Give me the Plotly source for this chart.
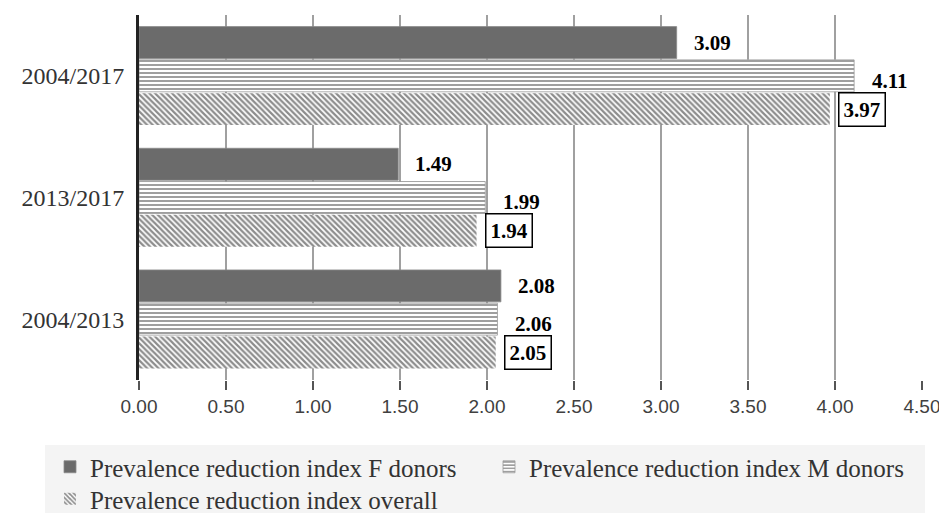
import plotly.graph_objects as go

categories = ["2004/2017", "2013/2017", "2004/2013"]
f_donors = [3.09, 1.49, 2.08]
m_donors = [4.11, 1.99, 2.06]
overall = [3.97, 1.94, 2.05]
series_names = ["Prevalence reduction index F donors",
                "Prevalence reduction index M donors",
                "Prevalence reduction index overall"]
tick_vals = [0, 0.5, 1, 1.5, 2, 2.5, 3, 3.5, 4, 4.5]
tick_text = ["0.00", "0.50", "1.00", "1.50", "2.00", "2.50", "3.00", "3.50", "4.00", "4.50"]

SERIF = "Liberation Serif, Times New Roman, serif"
OFF = 8  # page body margin
W, H = 947 - OFF, 513 - OFF
ML, MT = 139 - OFF, 15 - OFF
PR, PB = 922 - OFF, 380 - OFF
MR, MB = W - PR, H - PB
PW, PH = PR - ML, PB - MT

fig = go.Figure()
# add in reverse order so that F donors bar sits on top within each group
fig.add_trace(go.Bar(y=categories, x=overall, name=series_names[2], orientation="h",
                     legend="legend3",
                     marker=dict(color="white", line=dict(width=0),
                                 pattern=dict(shape="\\", fgcolor="#1a1a1a", bgcolor="white",
                                              size=4, solidity=0.55))))
fig.add_trace(go.Bar(y=categories, x=m_donors, name=series_names[1], orientation="h",
                     legend="legend2",
                     marker=dict(color="white", line=dict(color="#999999", width=0.8),
                                 pattern=dict(shape="-", fgcolor="#2a2a2a", bgcolor="white",
                                              size=4, solidity=0.45))))
fig.add_trace(go.Bar(y=categories, x=f_donors, name=series_names[0], orientation="h",
                     legend="legend",
                     marker=dict(color="#6b6b6b", line=dict(color="#8a8a8a", width=0.8))))

annotations = []
label_font = dict(family=SERIF, size=21, color="black")
bar_step = PH / 3 * (1 - 0.18) / 3
for i, c in enumerate(categories):
    for vals, pos, boxed, shift in ((f_donors, 1, False, 17),
                                    (m_donors, -0.15, False, 18),
                                    (overall, -1, True, 8)):
        v = vals[i]
        annotations.append(dict(
            x=v, y=c, xref="x", yref="y", yshift=pos * bar_step,
            text="<b>%.2f</b>" % v, showarrow=False, xanchor="left",
            xshift=shift, font=label_font,
            bordercolor="black" if boxed else "rgba(0,0,0,0)",
            borderwidth=1.5 if boxed else 0,
            borderpad=4 if boxed else 0,
            bgcolor="white" if boxed else "rgba(0,0,0,0)"))

legend_font = dict(family=SERIF, size=25, color="#333333")


def leg(sx, sy):
    return dict(orientation="h", xref="container", yref="container",
                x=(sx - OFF) / W, y=1 - (sy - OFF) / H, xanchor="left", yanchor="middle",
                bgcolor="rgba(0,0,0,0)", font=legend_font, itemwidth=30)


fig.update_layout(
    width=W, height=H,
    margin=dict(l=ML, r=MR, t=MT, b=MB),
    paper_bgcolor="white", plot_bgcolor="white",
    barmode="group", bargap=0.18, bargroupgap=0.04,
    annotations=annotations,
    showlegend=True,
    legend=leg(50, 467),
    legend2=leg(489, 467),
    legend3=leg(50, 499),
    shapes=[dict(type="rect", xref="paper", yref="paper",
                 x0=(45 - OFF - ML) / PW, x1=(925 - OFF - ML) / PW,
                 y0=-(H - PB + 2) / PH, y1=-(445 - OFF - PB) / PH,
                 fillcolor="#f4f4f4", line=dict(width=0), layer="below")],
    xaxis=dict(range=[0, 4.5], tickvals=tick_vals, ticktext=tick_text,
               showgrid=True, gridcolor="#a0a0a0", gridwidth=1.5,
               ticks="outside", ticklen=9, tickcolor="#555555", tickwidth=1.5,
               zeroline=False, showline=False, automargin=False,
               tickfont=dict(family="Liberation Sans, Arial, sans-serif",
                             size=19, color="#404040")),
    yaxis=dict(showline=True, linecolor="#222222", linewidth=3, ticks="",
               showgrid=False, ticklabelstandoff=7, automargin=False,
               categoryorder="array", categoryarray=categories[::-1],
               tickfont=dict(family=SERIF, size=24, color="#333333")),
)

fig.write_html("out.html")
